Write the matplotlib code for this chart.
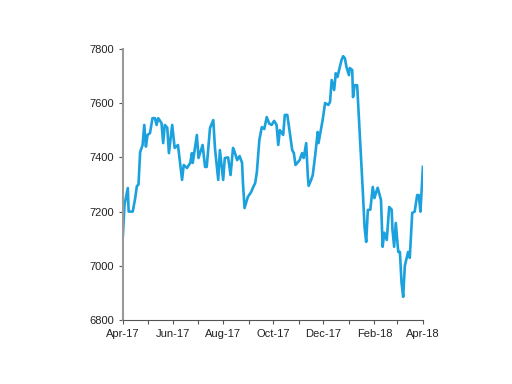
import pandas as pd
import matplotlib
matplotlib.use('Agg')
import matplotlib.pyplot as plt
import matplotlib.dates as mdates

start_date = '2017-04-01'
# days after start_date
day_offsets = [0, 2, 6, 7, 12, 15, 17, 19, 21, 24, 26, 28, 30, 33, 36, 39, 41, 43, 47, 49,
               51, 54, 56, 60, 63, 67, 72, 74, 78, 82, 84, 85, 90, 92, 97, 100, 102, 106, 110, 112,
               116, 118, 122, 124, 128, 131, 134, 136, 139, 142, 145, 146, 148, 152, 156, 158, 161, 163, 166, 169,
               172, 175, 178, 181, 184, 187, 189, 191, 195, 197, 200, 202, 206, 208, 210, 215, 218, 220, 223, 225,
               226, 229, 231, 234, 237, 238, 242, 243, 246, 250, 252, 254, 257, 259, 261, 264, 266, 268, 270, 272,
               275, 276, 279, 280, 282, 285, 292, 294, 296, 298, 301, 304, 306, 309, 310, 314, 316, 318, 321, 324,
               327, 328, 330, 332, 335, 337, 339, 341, 343, 347, 349, 352, 355, 358, 360, 362, 364, 365]
index_level = [7110, 7225, 7287, 7200, 7200, 7250, 7294, 7300, 7420, 7446, 7520, 7440, 7483, 7490, 7545, 7545, 7520, 7545, 7527, 7453,
               7520, 7510, 7416, 7520, 7435, 7446, 7317, 7372, 7361, 7380, 7416, 7380, 7483, 7398, 7446, 7365, 7365, 7509, 7538, 7435,
               7317, 7427, 7317, 7398, 7400, 7335, 7435, 7420, 7390, 7405, 7380, 7310, 7213, 7254, 7272, 7287, 7306, 7346, 7464, 7512,
               7505, 7549, 7525, 7520, 7535, 7520, 7446, 7501, 7483, 7557, 7557, 7515, 7427, 7416, 7372, 7390, 7416, 7398, 7453, 7330,
               7295, 7317, 7335, 7409, 7494, 7453, 7520, 7538, 7601, 7594, 7605, 7686, 7649, 7711, 7697, 7734, 7760, 7774, 7767, 7734,
               7704, 7730, 7723, 7623, 7667, 7667, 7269, 7143, 7088, 7206, 7207, 7291, 7250, 7280, 7288, 7243, 7070, 7122, 7095, 7217,
               7207, 7132, 7070, 7158, 7051, 7051, 6937, 6885, 7000, 7051, 7029, 7195, 7200, 7261, 7261, 7200, 7310, 7365]

dates = pd.Timestamp(start_date) + pd.to_timedelta(day_offsets, unit='D')

plt.rcParams['font.family'] = ['Liberation Sans', 'DejaVu Sans']

fig = plt.figure(figsize=(5.12, 3.84), dpi=100)
ax = fig.add_axes([0.240, 0.167, 0.586, 0.705])
ax.plot(dates, index_level, color='#1ba1dd', linewidth=1.9)

ax.set_ylim(6800, 7800)
ax.set_yticks([6800, 7000, 7200, 7400, 7600, 7800])
ax.set_xlim(pd.Timestamp('2017-04-01'), pd.Timestamp('2018-04-01'))
ax.xaxis.set_major_locator(mdates.MonthLocator(bymonth=[2, 4, 6, 8, 10, 12]))
ax.xaxis.set_minor_locator(mdates.MonthLocator())
ax.xaxis.set_major_formatter(mdates.DateFormatter('%b-%y'))

for side in ['top', 'right']:
    ax.spines[side].set_visible(False)
ax.spines['left'].set_color('#999999')
ax.spines['left'].set_linewidth(1.5)
ax.spines['bottom'].set_color('#555555')
ax.spines['bottom'].set_linewidth(0.8)
ax.tick_params(axis='both', which='both', colors='#555555', labelcolor='#222222',
               labelsize=8, length=3, width=0.8)

fig.savefig('out.png', dpi=100)
